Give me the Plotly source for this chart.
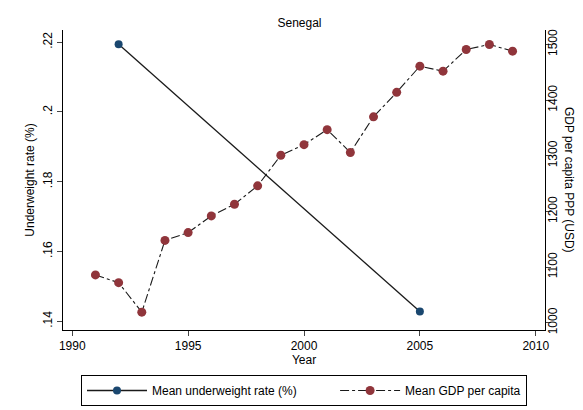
import plotly.graph_objects as go

years_gdp = list(range(1991, 2010))
gdp = [1086, 1072, 1019, 1148, 1162, 1192, 1213, 1246, 1301, 1320, 1347, 1306, 1370, 1414, 1461, 1452, 1491, 1500, 1488]
years_uw = [1992, 2005]
underweight = [0.2194, 0.1428]

fig = go.Figure()
fig.add_trace(go.Scatter(
    x=years_uw, y=underweight, name="Mean underweight rate (%)          ",
    mode="lines+markers", line=dict(color="#1a1a1a", width=1.3),
    marker=dict(color="#1a476f", size=8),
))
fig.add_trace(go.Scatter(
    x=years_gdp, y=gdp, name="Mean GDP per capita", yaxis="y2",
    mode="lines+markers", line=dict(color="#1a1a1a", width=1.1, dash="dashdot"),
    marker=dict(color="#90353b", size=9),
))

font = dict(family="Liberation Sans, Arial", size=12, color="#000")
tf = dict(size=12)
fig.update_layout(
    width=583, height=410, paper_bgcolor="white", plot_bgcolor="white",
    font=font,
    title=dict(text="Senegal", x=0.5, y=0.975, xanchor="center", font=dict(size=12)),
    margin=dict(l=55, r=46, t=22, b=74),
    xaxis=dict(range=[1989.6, 2010.4], tickvals=[1990, 1995, 2000, 2005, 2010],
               title=dict(text="Year", standoff=2, font=tf), showgrid=False, zeroline=False,
               showline=True, linecolor="#000", ticks="outside", ticklen=5, automargin=False),
    yaxis=dict(range=[0.1375, 0.2235], tickvals=[0.14, 0.16, 0.18, 0.2, 0.22],
               ticktext=[".14", ".16", ".18", ".2", ".22"], tickangle=-90,
               title=dict(text="Underweight rate (%)", standoff=4, font=tf), showgrid=False,
               zeroline=False, showline=True, linecolor="#000", ticks="outside", ticklen=5,
               automargin=False),
    yaxis2=dict(overlaying="y", side="right", range=[987, 1526],
                tickvals=[1000, 1100, 1200, 1300, 1400, 1500], tickangle=-90,
                showgrid=False, ticklabelstandoff=-8,
                zeroline=False, showline=True, linecolor="#000", ticks="outside", ticklen=5,
                automargin=False),
    legend=dict(orientation="h", x=0.5, xanchor="center", y=-0.15, yanchor="top",
                bordercolor="#000", borderwidth=1, font=dict(size=12), itemwidth=60),
    showlegend=True,
)
fig.add_annotation(text="GDP per capita PPP (USD)", xref="paper", yref="paper",
                   x=1.0, xshift=33, y=0.5, textangle=90, showarrow=False,
                   font=dict(size=12))
fig.write_html("out.html")
